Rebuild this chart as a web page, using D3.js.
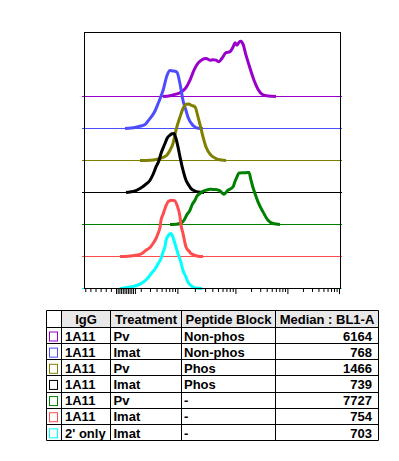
<!DOCTYPE html>
<html>
<head>
<meta charset="utf-8">
<script src="https://cdn.jsdelivr.net/npm/d3@7"></script>
<style>
    body { margin: 0; background: #fff; }
    svg text { font-family: 'Liberation Sans', Arial, sans-serif; font-weight: bold; font-size: 13px; }
</style>
</head>
<body>
<div id="container"></div>
<script>
// Table / legend data (one entry per histogram, top to bottom)
var iggLabels = ['1A11', '1A11', '1A11', '1A11', '1A11', '1A11', "2' only"];
var treatments = ['Pv', 'Imat', 'Pv', 'Imat', 'Pv', 'Imat', 'Imat'];
var peptideBlocks = ['Non-phos', 'Non-phos', 'Phos', 'Phos', '-', '-', '-'];
var medians = [6164, 768, 1466, 739, 7727, 754, 703];
var colors = ['#9900cc', '#4d4dff', '#808000', '#000000', '#008000', '#ff4d4d', '#00ffff'];
var headers = ['IgG', 'Treatment', 'Peptide Block', 'Median : BL1-A'];

// Histograms: [display bin, relative count]
var purpleHist = [[79, 0], [86, 0.8], [92, 2.3], [97, 4.3], [102, 8.8], [106, 16.3], [110, 26.3], [114, 33.3], [118, 36.8], [122, 38], [126, 36.3], [129, 36.8], [132, 36.3], [135, 34.8], [138, 38.3], [142, 43.8], [146, 44.8], [149, 49.3], [151, 53.8], [153, 51.3], [155, 54.3], [157, 55.3], [159, 52.3], [162, 41.3], [166, 28.3], [170, 16.3], [174, 7.3], [178, 2.3], [184, 0.5], [192, 0]];
var blueHist = [[41, 0], [47, 0.5], [52, 1.3], [57, 2.5], [61, 4], [64, 7.5], [67, 11.3], [71, 17.5], [74, 24.7], [79, 38], [83, 53], [86, 58], [89, 57.5], [91, 57.3], [93, 56.3], [96, 44.7], [99, 28], [102, 18], [104, 11.3], [109, 3], [114, 0.3], [119, 0]];
var oliveHist = [[56, 0], [66, 0.3], [72, 1], [76, 2], [80, 3.5], [83, 5.5], [86, 10.3], [89, 17], [92, 30.3], [96, 43.6], [99, 52], [102, 56.3], [105, 56.5], [107, 55.3], [111, 53.6], [114, 43.6], [117, 32], [119, 23.6], [122, 13.6], [127, 5.3], [131, 2.5], [134, 1], [142, 0]];
var blackHist = [[42, 0], [46, 0.5], [51, 1.5], [56, 4], [61, 7.5], [66, 12.3], [69, 18], [72, 25.6], [75, 32], [77, 39], [81, 49], [83, 54], [86, 57.3], [88, 58.7], [90, 59], [91, 57], [92, 54], [94, 45.6], [96, 35.6], [99, 22.3], [102, 12.3], [105, 7], [107, 4], [111, 1.5], [114, 0.6], [120, 0]];
var greenHist = [[86, 0], [92, 0.3], [96, 1], [99, 3], [101, 6], [103, 10], [106, 14.3], [108, 19.5], [111, 24.3], [113, 28.5], [116, 31], [119, 33.3], [122, 34.3], [126, 35.3], [129, 35], [132, 35], [136, 33.6], [140, 30.3], [144, 34.3], [149, 37.6], [151, 43], [153, 47.6], [155, 51.6], [159, 51.8], [162, 51.8], [165, 52], [167, 44.3], [169, 37], [171, 31], [174, 22.6], [179, 12.6], [184, 4.3], [189, 1], [196, 0]];
var redHist = [[36, 0], [44, 0.3], [52, 1.3], [58, 3], [62, 6.3], [66, 9], [69, 13], [72, 18], [74, 23], [76, 29], [77, 36.3], [79, 42], [81, 48], [84, 54.6], [86, 55.8], [87, 56.3], [89, 56], [91, 55.6], [93, 51.3], [96, 39.6], [97, 31.5], [99, 23], [102, 9.6], [105, 5.5], [107, 3], [114, 0.3], [119, 0]];
var cyanHist = [[36, 0], [41, 0.7], [49, 2], [54, 3.5], [59, 6.3], [63, 9.5], [67, 14.7], [71, 19.5], [74, 24.7], [77, 30], [79, 36.3], [81, 42], [82, 48], [84, 52.5], [86, 54.7], [87, 55], [88, 53.6], [91, 44.7], [94, 34.7], [97, 26], [99, 18], [102, 11.5], [104, 6.3], [107, 3], [109, 1.3], [113, 0.4], [118, 0]];
var histograms = [purpleHist, blueHist, oliveHist, blackHist, greenHist, redHist, cyanHist];

// Axis ticks (log10 of intensity, biexponential display)
var majorTicks = [3, 4, 5, 6];
var minorDecades = [2, 3, 4, 5];
var minorMultipliers = [2, 3, 4, 5, 6, 7, 8, 9];
var lowTicks = [0.2, 0.4, 0.6, 0.8, 1.0, 1.2];
var zeroTicks = [1.4, 1.45, 1.5, 1.55, 1.6, 1.65, 1.7, 1.75, 1.8, 1.85, 1.9, 2];

// Size variables
var margin = {top: 32, left: 84};
var width = 256;
var height = 256;

var svg = d3.select('#container')
    .append('svg')
    .attr('width', 399)
    .attr('height', 461);

var plot = svg.append('g')
    .attr('transform', `translate(${margin.left}, ${margin.top})`);

// Scales
var xBin = d3.scaleLinear().domain([0, 256]).range([0, width]);
var xLog = d3.scaleLinear()
    .domain([0.15, 1.4, 1.9, 2.3, 3, 4, 5, 6])
    .range([0, 32, 49, 56.7, 93.4, 151.4, 203.4, 255]);
var stack = d3.scaleLinear().domain([0, 8]).range([height, 0]);
var yCount = d3.scaleLinear().domain([0, 60]).range([0, 60]);

// Histograms, top one first so the lower ones sit on top
histograms.forEach((hist, i) => {
    var base = stack(histograms.length - 1 - i) + 0.5;

    plot.append('line')
        .attr('x1', xBin(0) - 2)
        .attr('x2', xBin(256) + 2)
        .attr('y1', base)
        .attr('y2', base)
        .attr('stroke', colors[i])
        .attr('stroke-width', 1);

    var line = d3.line()
        .x((d) => xBin(d[0]))
        .y((d) => base - yCount(d[1]))
        .curve(d3.curveMonotoneX);

    plot.append('path')
        .datum(hist)
        .attr('d', line)
        .attr('fill', 'none')
        .attr('stroke', colors[i])
        .attr('stroke-width', 3)
        .attr('stroke-linejoin', 'round');
});

// Frame
plot.append('rect')
    .attr('x', 0.5)
    .attr('y', 0.5)
    .attr('width', width)
    .attr('height', height)
    .attr('fill', 'none')
    .attr('stroke', '#000');

// x axis ticks
var minorTicks = [];
minorDecades.forEach((d) => minorMultipliers.forEach((m) => minorTicks.push(d + Math.log10(m))));

function tickRow(values, size) {
    plot.append('g')
        .attr('transform', `translate(0, ${height})`)
        .call(d3.axisBottom(xLog).tickValues(values).tickSize(size).tickFormat(''))
        .call((g) => g.select('.domain').remove())
        .call((g) => g.selectAll('line').attr('stroke', '#000'));
}
tickRow(lowTicks.concat(minorTicks), 4);
tickRow(zeroTicks, 6);
tickRow(majorTicks, 6);

// Table
var colEdges = [46.5, 61.5, 110.5, 181.5, 275.5, 378.5];
var headerTop = 310.5;
var headerBottom = 327.5;
var rowY = d3.scaleBand().domain(d3.range(medians.length)).range([headerBottom, 440.5]);
var tableBottom = 440.5;

var table = svg.append('g');

table.append('rect')
    .attr('x', colEdges[1])
    .attr('y', headerTop)
    .attr('width', colEdges[5] - colEdges[1])
    .attr('height', headerBottom - headerTop)
    .attr('fill', '#e8e8e8');

headers.forEach((h, j) => {
    table.append('text')
        .attr('x', (colEdges[j + 1] + colEdges[j + 2]) / 2)
        .attr('y', headerTop + 13.5)
        .attr('text-anchor', 'middle')
        .text(h);
});

medians.forEach((m, i) => {
    var top = rowY(i);
    var ty = top + 13.2;
    table.append('rect')
        .attr('x', 49.5)
        .attr('y', top + 4.5)
        .attr('width', 8)
        .attr('height', 9)
        .attr('fill', '#fff')
        .attr('stroke', colors[i]);
    table.append('text').attr('x', colEdges[1] + 3.5).attr('y', ty).text(iggLabels[i]);
    table.append('text').attr('x', colEdges[2] + 3).attr('y', ty).text(treatments[i]);
    table.append('text').attr('x', colEdges[3] + 2.5).attr('y', ty).text(peptideBlocks[i]);
    table.append('text').attr('x', colEdges[5] - 6.5).attr('y', ty).attr('text-anchor', 'end').text(m);
});

// grid lines
colEdges.forEach((x) => {
    table.append('line')
        .attr('x1', x).attr('x2', x)
        .attr('y1', headerTop).attr('y2', tableBottom)
        .attr('stroke', '#000');
});
[headerTop, headerBottom].concat(d3.range(medians.length).map((i) => rowY(i) + rowY.bandwidth())).forEach((y) => {
    var yy = Math.round(y - 0.5) + 0.5;
    table.append('line')
        .attr('x1', colEdges[0]).attr('x2', colEdges[5])
        .attr('y1', yy).attr('y2', yy)
        .attr('stroke', '#000');
});
</script>
</body>
</html>
